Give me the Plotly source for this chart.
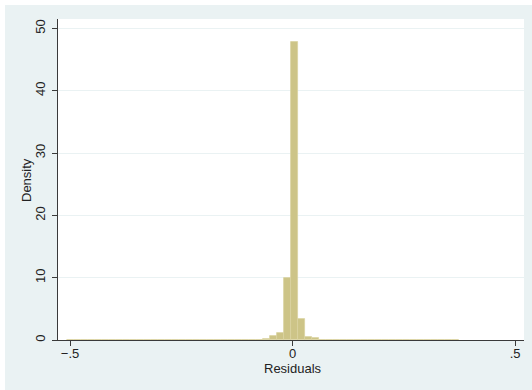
import plotly.graph_objects as go

# Histogram of residuals (Stata-style density histogram)
bin_start = -0.507
bin_width = 0.01573
density = [
    0.03, 0.02, 0.0, 0.02, 0.02, 0.0, 0.02, 0.02, 0.0, 0.02,
    0.02, 0.02, 0.02, 0.02, 0.02, 0.02, 0.02, 0.02, 0.02, 0.02,
    0.02, 0.02, 0.02, 0.02, 0.03, 0.03, 0.04, 0.06, 0.15, 0.6,
    1.15, 10.0, 47.8, 3.4, 0.55, 0.3, 0.08, 0.04, 0.03, 0.02,
    0.02, 0.02, 0.02, 0.02, 0.02, 0.02, 0.02, 0.02, 0.02, 0.02,
    0.02, 0.02, 0.02, 0.02, 0.02, 0.02,
]
x_ticks = [-0.5, 0, 0.5]
x_ticktext = ["\u2212.5", "0", ".5"]
y_ticks = [0, 10, 20, 30, 40, 50]
y_ticktext = ["0", "10", "20", "30", "40", "50"]

centers = [bin_start + bin_width * (i + 0.5) for i in range(len(density))]

W, H = 532, 390
L, R, T, B = 58, 8, 19, 50
pw, ph = W - L - R, H - T - B

fig = go.Figure()
fig.add_trace(go.Bar(
    x=centers, y=density, width=[bin_width] * len(density),
    marker=dict(color="#CDC487", line=dict(color="#D9D2A0", width=0.8)),
    hoverinfo="x+y",
))

font = dict(family="Liberation Sans, Arial, sans-serif", size=13, color="#222222")

fig.update_layout(
    width=W, height=H,
    margin=dict(l=L, r=R, t=T, b=B, pad=0),
    paper_bgcolor="#EAF2F3",
    plot_bgcolor="#FFFFFF",
    showlegend=False,
    bargap=0,
    font=font,
    xaxis=dict(
        range=[-0.527, 0.520],
        tickvals=x_ticks, ticktext=x_ticktext,
        showgrid=False, zeroline=False,
        showline=True, linecolor="#3A3A3A", linewidth=1,
        ticks="outside", ticklen=5, tickcolor="#3A3A3A", tickwidth=1,
        ticklabelstandoff=-4,
        layer="below traces",
    ),
    yaxis=dict(
        range=[0, 51.5],
        tickvals=y_ticks, ticktext=y_ticktext,
        tickangle=-90,
        showgrid=True, gridcolor="#EAF2F3", gridwidth=1,
        zeroline=False,
        showline=True, linecolor="#3A3A3A", linewidth=1,
        ticks="outside", ticklen=5, tickcolor="#3A3A3A", tickwidth=1,
        ticklabelstandoff=2,
        layer="below traces",
    ),
    annotations=[
        dict(text="Residuals", xref="paper", yref="paper",
             x=(292.5 - L) / pw, y=(H - B - 368) / ph,
             xanchor="center", yanchor="middle", showarrow=False, font=font),
        dict(text="Density", xref="paper", yref="paper",
             x=(27 - L) / pw, y=(H - B - 180) / ph, textangle=-90,
             xanchor="center", yanchor="middle", showarrow=False, font=font),
    ],
    shapes=[
        # white outer border strips (top and left)
        dict(type="rect", xref="paper", yref="paper", layer="below",
             x0=-L / pw, x1=(W - L) / pw, y0=(H - B - 5) / ph, y1=(H - B) / ph,
             fillcolor="#FFFFFF", line=dict(width=0)),
        dict(type="rect", xref="paper", yref="paper", layer="below",
             x0=-L / pw, x1=(5 - L) / pw, y0=-B / ph, y1=(H - B) / ph,
             fillcolor="#FFFFFF", line=dict(width=0)),
    ],
)

fig.write_html("out.html")
